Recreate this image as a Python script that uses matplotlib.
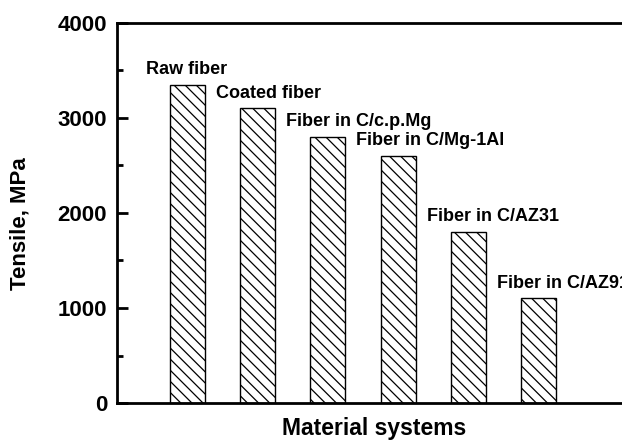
import matplotlib
matplotlib.use('Agg')
import matplotlib.pyplot as plt
from matplotlib.ticker import MultipleLocator

# ---- data ----
sistemas = ['Raw fiber', 'Coated fiber', 'Fiber in C/c.p.Mg', 'Fiber in C/Mg-1Al',
            'Fiber in C/AZ31', 'Fiber in C/AZ91']
tensile = [3350, 3100, 2800, 2600, 1800, 1100]
posicoes = [1, 2, 3, 4, 5, 6]

plt.rcParams['font.family'] = ['Liberation Sans', 'DejaVu Sans']
plt.rcParams['font.weight'] = 'bold'
plt.rcParams['hatch.linewidth'] = 0.9

fig = plt.figure(figsize=(6.22, 4.40), dpi=100)
# axes run past the right edge, like the cropped original
ax = fig.add_axes([0.188, 0.084, 0.825, 0.864])

ax.bar(posicoes, tensile, width=0.5, color='white', edgecolor='black',
       linewidth=1.0, hatch='\\\\\\')

for x, v, nome in zip(posicoes, tensile, sistemas):
    ax.annotate(nome, (x, v), xytext=(-30, 11), textcoords='offset points',
                ha='left', va='center', fontsize=13, fontweight='bold',
                annotation_clip=False)

ax.set_xlim(0, 7.3)
ax.set_ylim(0, 4000)
ax.yaxis.set_major_locator(MultipleLocator(1000))
ax.yaxis.set_minor_locator(MultipleLocator(500))
ax.set_xticks([])
ax.tick_params(axis='y', which='major', direction='in', length=8, width=2,
               labelsize=16, pad=7)
ax.tick_params(axis='y', which='minor', direction='in', length=4, width=2)
for lbl in ax.get_yticklabels():
    lbl.set_fontweight('bold')

for s in ax.spines.values():
    s.set_linewidth(2)

ax.set_ylabel('Tensile, MPa', fontsize=16, fontweight='bold', ha='center', va='center')
ax.yaxis.set_label_coords(-0.189, 0.472)
ax.set_xlabel('Material systems', fontsize=16.5, fontweight='bold', ha='center', va='center')
ax.xaxis.set_label_coords(0.501, -0.068)

fig.savefig('out.png', dpi=100)
